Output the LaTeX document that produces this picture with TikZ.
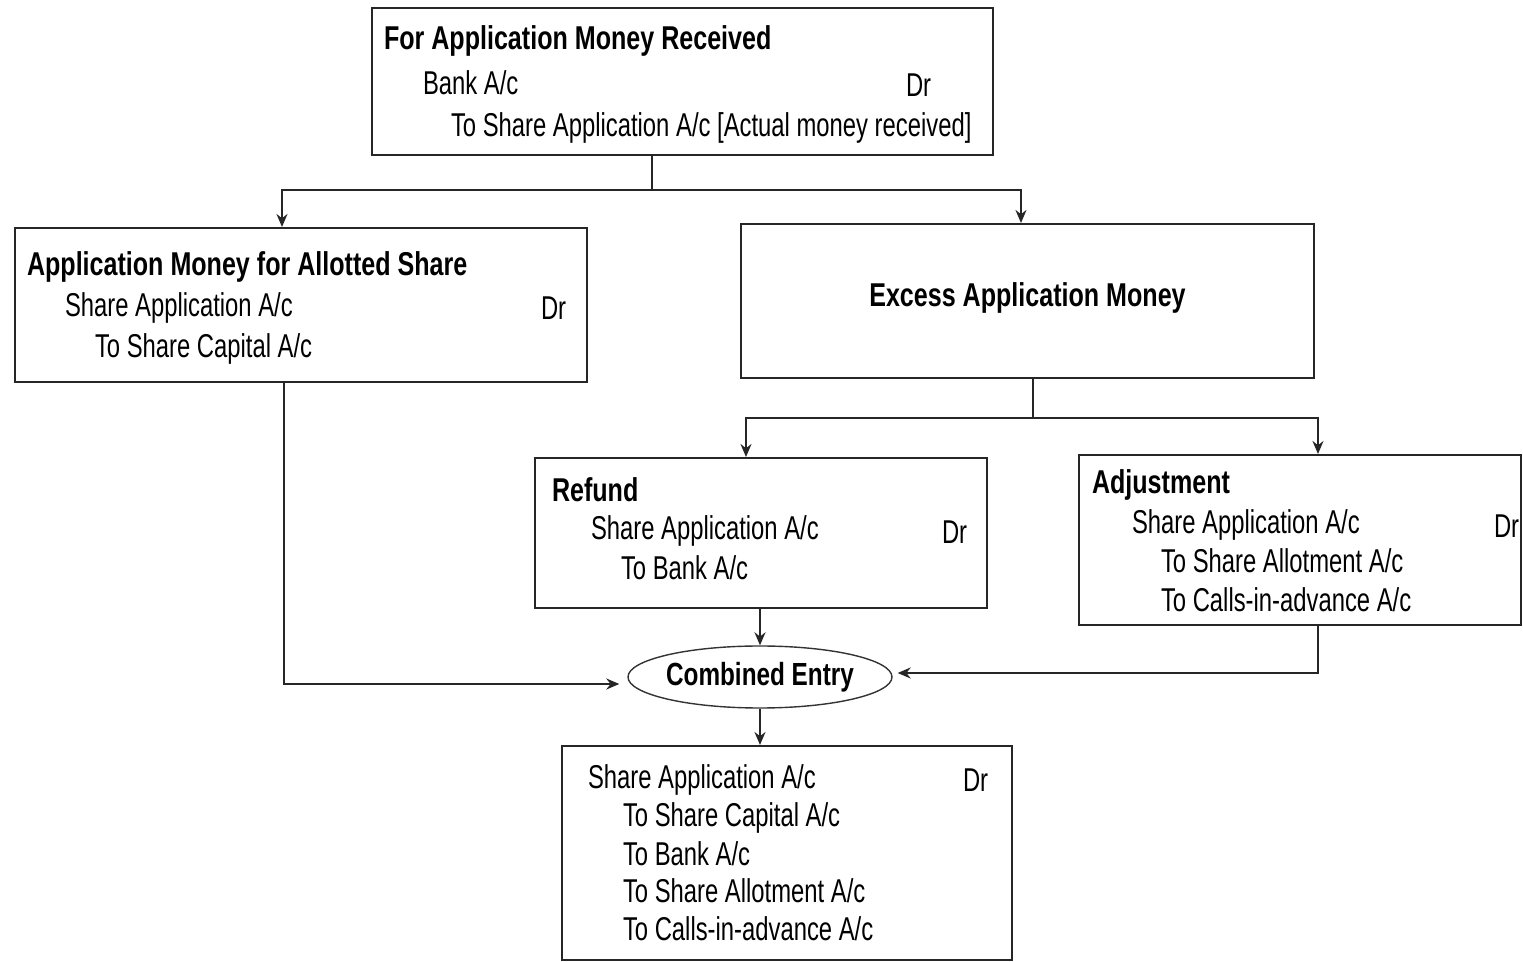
\documentclass[tikz,border=0pt]{standalone}
\usepackage{fontspec}
\setmainfont[FakeStretch=0.722,BoldFeatures={FakeStretch=0.76}]{Liberation Sans}
\usetikzlibrary{arrows.meta,fit,shapes.geometric}

\tikzset{
  box/.style={draw=black!85,line width=1pt,inner sep=0pt},
  ln/.style={anchor=base west,inner sep=0pt,font=\fontsize{16.5}{20}\selectfont},
  hd/.style={ln,font=\fontsize{16.5}{20}\selectfont\bfseries},
  arr/.style={draw=black!85,-{Stealth[length=6.5pt,width=5.5pt]}},
  conn/.style={draw=black!85}
}

\begin{document}
\begin{tikzpicture}[x=0.5pt,y=-0.5pt,line width=1pt]
  \useasboundingbox (0,0) rectangle (1523,962);

  \node[box,fit={(372,8) (993,155)}] (rcvd) {};
  \node[hd] at (383,50) {For Application Money Received};
  \node[ln] at (422,95) {Bank A/c};
  \node[ln] at (905,97) {Dr};
  \node[ln] at (450,137) {To Share Application A/c [Actual money received]};

  \node[box,fit={(15,228) (587,382)}] (allot) {};
  \node[hd] at (26,276) {Application Money for Allotted Share};
  \node[ln] at (64,317) {Share Application A/c};
  \node[ln] at (540,320) {Dr};
  \node[ln] at (94,358) {To Share Capital A/c};

  \node[box,fit={(741,224) (1314,378)}] (excess) {};
  \node[hd,anchor=center] at ([yshift=1.5pt]excess.center) {Excess Application Money};

  \node[box,fit={(535,458) (987,608)}] (refund) {};
  \node[hd] at (551,502) {Refund};
  \node[ln] at (590,540) {Share Application A/c};
  \node[ln] at (941,544) {Dr};
  \node[ln] at (620,580) {To Bank A/c};

  \node[box,fit={(1079,455) (1521,625)}] (adjust) {};
  \node[hd] at (1091,494) {Adjustment};
  \node[ln] at (1131,534) {Share Application A/c};
  \node[ln] at (1493,538) {Dr};
  \node[ln] at (1160,573) {To Share Allotment A/c};
  \node[ln] at (1160,612) {To Calls-in-advance A/c};

  \node[ellipse,draw=black!80,line width=0.7pt,inner xsep=-2.5pt,inner ysep=0pt,minimum width=132pt,minimum height=31pt,
        font=\fontsize{16}{20}\selectfont\bfseries] (cmb) at (760,677) {Combined Entry};

  \node[box,fit={(562,746) (1012,960)}] (final) {};
  \node[ln] at (587,789) {Share Application A/c};
  \node[ln] at (962,792) {Dr};
  \node[ln] at (622,827) {To Share Capital A/c};
  \node[ln] at (622,865) {To Bank A/c};
  \node[ln] at (622,903) {To Share Allotment A/c};
  \node[ln] at (622,941) {To Calls-in-advance A/c};

  \coordinate (s1) at (652,190);
  \coordinate (s1l) at (282,190);
  \coordinate (s1r) at (1021,190);
  \coordinate (s2) at (1033,418);
  \coordinate (s2l) at (746,418);
  \coordinate (s2r) at (1318,418);
  \coordinate (b1) at (284,684);
  \coordinate (b2) at (1318,673);

  \draw[conn] (rcvd.south -| s1) -- (s1);
  \draw[arr] (s1) -| (allot.north -| s1l);
  \draw[arr] (s1) -| (excess.north -| s1r);

  \draw[conn] (excess.south -| s2) -- (s2);
  \draw[arr] (s2) -| (refund.north -| s2l);
  \draw[arr] (s2) -| (adjust.north -| s2r);

  \draw[arr] (refund.south -| cmb.north) -- (cmb.north);
  \draw[arr,shorten >=4pt] (allot.south -| b1) |- ([yshift=-3.5pt]cmb.west);
  \draw[arr,shorten >=2.5pt] (adjust.south -| b2) |- ([yshift=2pt]cmb.east);
  \draw[arr] (cmb.south) -- (final.north -| cmb.south);
\end{tikzpicture}
\end{document}
